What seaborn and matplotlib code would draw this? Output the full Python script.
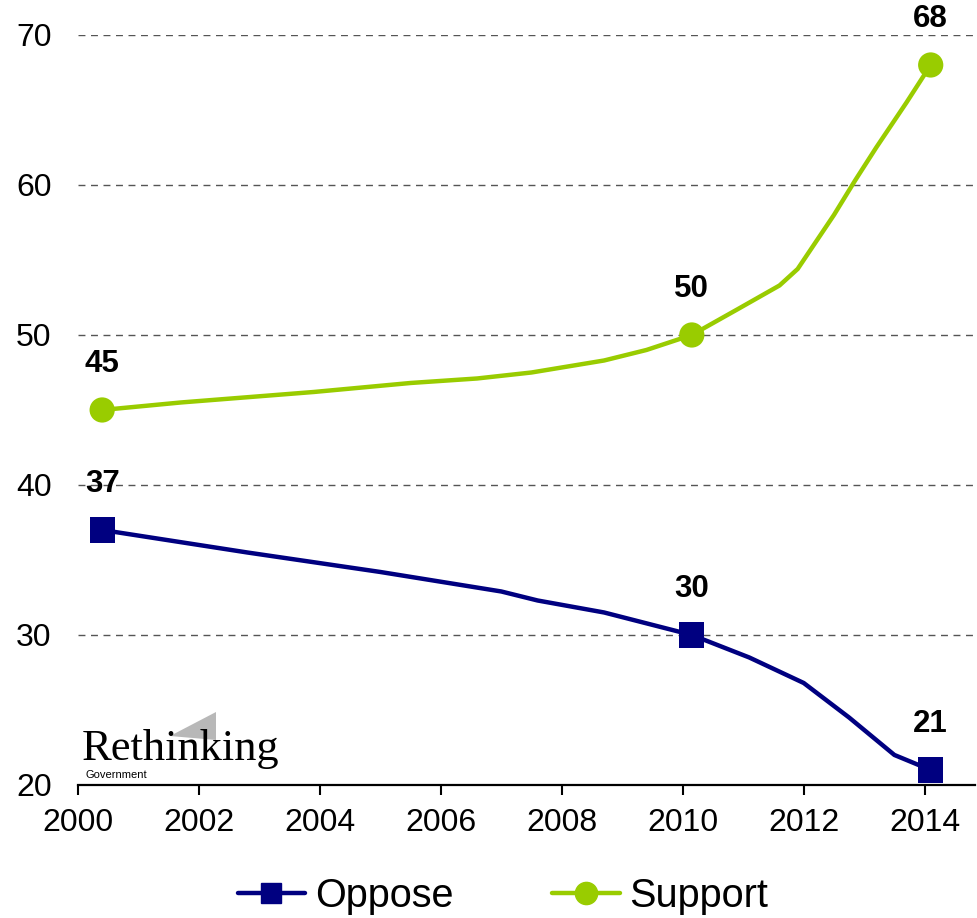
import matplotlib
matplotlib.use("Agg")
import matplotlib.pyplot as plt
from matplotlib.lines import Line2D
from matplotlib.patches import Polygon
import pandas as pd
import seaborn as sns

# survey points (marker positions)
point_years = [2000.4, 2010.15, 2014.1]
oppose_pts = [37, 30, 21]
support_pts = [45, 50, 68]

# smoothed curve
support_curve_years = [2000.4, 2001.7, 2003.9, 2005.5, 2006.6, 2007.5, 2008.7, 2009.4,
                       2010.15, 2010.9, 2011.6, 2011.9, 2012.5, 2012.85, 2013.2, 2013.7, 2014.1]
support_curve = [45, 45.5, 46.2, 46.8, 47.1, 47.5, 48.3, 49.0,
                 50, 51.7, 53.3, 54.4, 58.0, 60.3, 62.5, 65.5, 68]
oppose_curve_years = [2000.4, 2002.8, 2005.0, 2007.0, 2007.6, 2008.7, 2010.15,
                      2011.1, 2012.0, 2012.75, 2013.5, 2014.1]
oppose_curve = [37, 35.5, 34.2, 32.9, 32.3, 31.5, 30, 28.5, 26.8, 24.5, 22.0, 21]

x_ticks = [2000, 2002, 2004, 2006, 2008, 2010, 2012, 2014]
y_ticks = [20, 30, 40, 50, 60, 70]

colors = {"Oppose": "#000080", "Support": "#99CC00"}
markers = {"Oppose": "s", "Support": "o"}

sns.set_style("white")
plt.rcParams['font.family'] = ['Liberation Sans', 'DejaVu Sans']
plt.rcParams['text.color'] = 'black'
plt.rcParams['xtick.color'] = 'black'
plt.rcParams['ytick.color'] = 'black'
plt.rcParams['xtick.labelcolor'] = 'black'
plt.rcParams['ytick.labelcolor'] = 'black'

fig = plt.figure(figsize=(9.77, 9.18), dpi=100)
ax = fig.add_axes([0.0798, 0.1449, 0.918, 0.8170])

curves = pd.concat([
    pd.DataFrame({"year": oppose_curve_years, "value": oppose_curve, "series": "Oppose"}),
    pd.DataFrame({"year": support_curve_years, "value": support_curve, "series": "Support"}),
])
points = pd.concat([
    pd.DataFrame({"year": point_years, "value": oppose_pts, "series": "Oppose"}),
    pd.DataFrame({"year": point_years, "value": support_pts, "series": "Support"}),
])

sns.lineplot(data=curves, x="year", y="value", hue="series", palette=colors,
             estimator=None, sort=False, linewidth=3.2, legend=False, ax=ax)
sns.scatterplot(data=points, x="year", y="value", hue="series", style="series",
                palette=colors, markers=markers, s=330, linewidth=0,
                legend=False, ax=ax, zorder=5, clip_on=False)

# value labels
for _, r in points.iterrows():
    ax.annotate(f"{r['value']:.0f}", (r["year"], r["value"]), xytext=(0, 33),
                textcoords="offset points", ha="center", va="center",
                fontsize=22.5, fontweight="bold", color="black", annotation_clip=False)

ax.set_xlim(2000, 2014.83)
ax.set_ylim(20, 70)
ax.set_xticks(x_ticks)
ax.set_yticks(y_ticks)
ax.set_xlabel("")
ax.set_ylabel("")

ax.yaxis.grid(True, linestyle=(0, (5, 4)), color="#555555", linewidth=1)
ax.xaxis.grid(False)
for s in ["left", "right", "top"]:
    ax.spines[s].set_visible(False)
ax.spines["bottom"].set_color("black")
ax.spines["bottom"].set_linewidth(1.6)
ax.tick_params(axis="x", direction="out", length=7.5, width=1.5, color="black",
               labelsize=23, pad=9, bottom=True)
ax.tick_params(axis="y", length=0, labelsize=23, pad=19)

# legend
handles = [Line2D([0], [0], color=colors[k], lw=3.2, marker=markers[k],
                  markersize=16 if k == "Support" else 14) for k in ["Oppose", "Support"]]
fig.legend(handles, ["Oppose", "Support"], loc="center", bbox_to_anchor=(0.515, 0.024),
           ncol=2, frameon=False, fontsize=28.5, handlelength=1.7, handletextpad=0.25,
           columnspacing=2.5)

# Rethinking Government logo
fig.patches.append(Polygon([[170 / 977, 1 - 736 / 918], [216 / 977, 1 - 712 / 918],
                            [216 / 977, 1 - 740 / 918]], closed=True,
                           transform=fig.transFigure, facecolor="#b8b8b8",
                           edgecolor="none"))
fig.text(82 / 977, 1 - 760 / 918, "Rethinking", fontsize=32, color="black",
         family=["Liberation Serif", "DejaVu Serif"], va="baseline", ha="left")
fig.text(86 / 977, 1 - 775 / 918, "Government", fontsize=8, va="center", ha="left")

fig.savefig("out.png", dpi=100)
